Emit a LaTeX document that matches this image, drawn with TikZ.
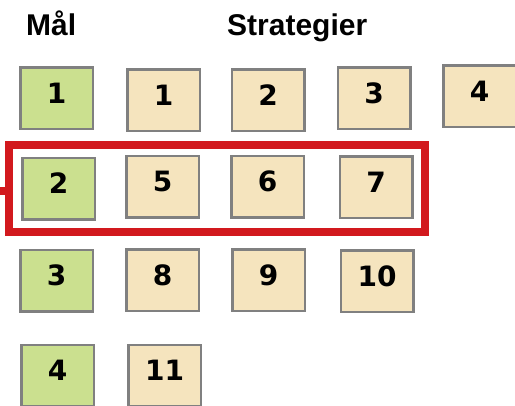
\documentclass[tikz,border=0pt]{standalone}
\usepackage{fontspec}
\newfontfamily\headfont{Liberation Sans}
\newfontfamily\digitfont{DejaVu Sans}
\definecolor{maalgreen}{RGB}{203,224,143}
\definecolor{stratbeige}{RGB}{245,228,190}
\definecolor{boxgray}{RGB}{128,128,128}
\definecolor{markred}{RGB}{210,25,30}

\begin{document}
\begin{tikzpicture}[x=1pt,y=-1pt,
    numbox/.style={draw=boxgray,line width=2.5pt,minimum width=72.5pt,minimum height=61.5pt,
      inner sep=0pt,text height=20.5pt,text depth=11pt,
      font=\digitfont\bfseries\fontsize{28}{28}\selectfont},
    maalbox/.style={numbox,fill=maalgreen},
    stratbox/.style={numbox,fill=stratbeige},
    headtext/.style={anchor=base west,inner sep=0pt,font=\headfont\bfseries\fontsize{30}{30}\selectfont}]
  \useasboundingbox (0,0) rectangle (515,406);

  \node[headtext] (maal) at (26,36) {Mål};
  \node[headtext] (strat) at (227,36) {Strategier};

  % goals
  \node[maalbox] (m1) at (56.5,98.5) {1};
  \node[maalbox] (m2) at (58.5,189) {2};
  \node[maalbox] (m3) at (56.5,281) {3};
  \node[maalbox] (m4) at (57.5,376) {4};

  % strategies
  \node[stratbox] (s1) at (163.5,100.5) {1};
  \node[stratbox] (s2) at (268,100.5) {2};
  \node[stratbox] (s3) at (374,98.5) {3};
  \node[stratbox] (s4) at (479.5,96.5) {4};

  \node[stratbox] (s5) at (162.5,187) {5};
  \node[stratbox] (s6) at (267.5,187) {6};
  \node[stratbox] (s7) at (376,187.5) {7};

  \node[stratbox] (s8) at (162.5,280.5) {8};
  \node[stratbox] (s9) at (268.5,280.5) {9};
  \node[stratbox] (s10) at (377,281.5) {10};

  \node[stratbox] (s11) at (164.5,376) {11};

  % marked row
  \node[draw=markred,line width=8pt,inner sep=0pt,minimum width=415.5pt,minimum height=87pt]
    (row2) at (216.75,188.5) {};
  \coordinate (tick) at (0,191);
  \draw[markred,line width=8pt] (tick) -- (tick -| row2.west);
\end{tikzpicture}
\end{document}
